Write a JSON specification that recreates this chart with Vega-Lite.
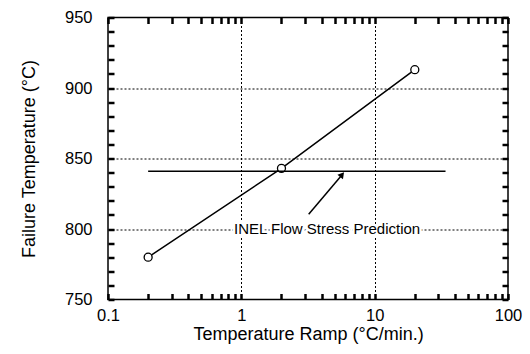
{
  "$schema": "https://vega.github.io/schema/vega-lite/v6.json",
  "width": 400,
  "height": 282,
  "autosize": {"type": "none"},
  "padding": {"left": 108, "top": 17.5, "right": 22, "bottom": 54.5},
  "background": "white",
  "config": {
    "font": "Liberation Sans",
    "view": {"stroke": "black", "strokeWidth": 1.5},
    "axis": {
      "domain": false,
      "labelFont": "Liberation Sans",
      "titleFont": "Liberation Sans",
      "labelColor": "black",
      "titleColor": "black",
      "labelFontSize": 16.5,
      "titleFontSize": 18,
      "titleFontWeight": "normal",
      "gridColor": "black",
      "gridDash": [2, 2],
      "gridWidth": 1,
      "labelOverlap": false,
      "labelFlush": false,
      "labelBound": false
    }
  },
  "datasets": {
    "failure": [
      {"ramp": 0.2, "temp": 780},
      {"ramp": 2, "temp": 843},
      {"ramp": 20, "temp": 913}
    ],
    "prediction": [
      {"ramp_start": 0.2, "ramp_end": 34, "temp": 841}
    ],
    "arrow": [
      {"ramp": 3.2, "temp": 810.5},
      {"ramp": 5.7, "temp": 838.5}
    ],
    "arrowhead": [
      {"ramp": 5.7, "temp": 838.5}
    ],
    "note": [
      {"ramp": 4.4, "temp": 800, "label": "INEL Flow Stress Prediction"}
    ]
  },
  "layer": [
    {
      "data": {"name": "failure"},
      "mark": {"type": "line", "color": "black", "strokeWidth": 1.5},
      "encoding": {
        "x": {
          "field": "ramp",
          "type": "quantitative",
          "scale": {"type": "log", "domain": [0.1, 100], "nice": false},
          "axis": {
            "orient": "bottom",
            "values": [0.1, 0.2, 0.3, 0.4, 0.5, 0.6, 0.7, 0.8, 0.9, 1, 2, 3, 4, 5, 6, 7, 8, 9, 10, 20, 30, 40, 50, 60, 70, 80, 90, 100],
            "ticks": true,
            "tickSize": -6,
            "tickColor": "black",
            "tickWidth": 2.5,
            "labelPadding": 14,
            "labelExpr": "datum.value == 0.1 ? '0.1' : datum.value == 1 ? '1' : datum.value == 10 ? '10' : datum.value == 100 ? '100' : ''",
            "grid": true,
            "gridOpacity": {"condition": {"test": "datum.value == 1 || datum.value == 10", "value": 1}, "value": 0},
            "title": "Temperature Ramp (°C/min.)",
            "titleY": 40,
            "titleBaseline": "alphabetic"
          }
        },
        "y": {
          "field": "temp",
          "type": "quantitative",
          "scale": {"domain": [750, 950], "nice": false, "zero": false},
          "axis": {
            "orient": "left",
            "values": [750, 760, 770, 780, 790, 800, 810, 820, 830, 840, 850, 860, 870, 880, 890, 900, 910, 920, 930, 940, 950],
            "ticks": true,
            "tickSize": -6,
            "tickColor": "black",
            "tickWidth": 2.5,
            "labelPadding": 22,
            "labelExpr": "datum.value % 50 == 0 ? datum.label : ''",
            "grid": true,
            "gridOpacity": {"condition": {"test": "datum.value == 800 || datum.value == 850 || datum.value == 900", "value": 1}, "value": 0},
            "title": "Failure Temperature (°C)",
            "titleX": -74,
            "titleBaseline": "alphabetic"
          }
        }
      }
    },
    {
      "data": {"name": "failure"},
      "mark": {"type": "point", "shape": "circle", "size": 64, "filled": false, "fill": "white", "stroke": "black", "strokeWidth": 1.3, "opacity": 1},
      "encoding": {
        "x": {"field": "ramp", "type": "quantitative", "scale": {"type": "log", "domain": [0.1, 100], "nice": false}, "axis": null},
        "y": {"field": "temp", "type": "quantitative", "scale": {"domain": [750, 950], "nice": false, "zero": false}, "axis": null}
      }
    },
    {
      "data": {"name": "prediction"},
      "mark": {"type": "rule", "color": "black", "strokeWidth": 1.5},
      "encoding": {
        "x": {
          "field": "ramp_start",
          "type": "quantitative",
          "scale": {"type": "log", "domain": [0.1, 100], "nice": false},
          "axis": {
            "orient": "top",
            "values": [0.1, 0.2, 0.3, 0.4, 0.5, 0.6, 0.7, 0.8, 0.9, 1, 2, 3, 4, 5, 6, 7, 8, 9, 10, 20, 30, 40, 50, 60, 70, 80, 90, 100],
            "offset": -6,
            "tickSize": 6,
            "tickColor": "black",
            "tickWidth": 2.5,
            "labels": false,
            "grid": false,
            "title": null
          }
        },
        "x2": {"field": "ramp_end"},
        "y": {
          "field": "temp",
          "type": "quantitative",
          "scale": {"domain": [750, 950], "nice": false, "zero": false},
          "axis": {
            "orient": "right",
            "values": [750, 760, 770, 780, 790, 800, 810, 820, 830, 840, 850, 860, 870, 880, 890, 900, 910, 920, 930, 940, 950],
            "offset": -6,
            "tickSize": 6,
            "tickColor": "black",
            "tickWidth": 2.5,
            "labels": false,
            "grid": false,
            "title": null
          }
        }
      }
    },
    {
      "data": {"name": "arrow"},
      "mark": {"type": "line", "color": "black", "strokeWidth": 1.5},
      "encoding": {
        "x": {"field": "ramp", "type": "quantitative", "scale": {"type": "log", "domain": [0.1, 100], "nice": false}, "axis": null},
        "y": {"field": "temp", "type": "quantitative", "scale": {"domain": [750, 950], "nice": false, "zero": false}, "axis": null}
      }
    },
    {
      "data": {"name": "arrowhead"},
      "mark": {"type": "point", "shape": "triangle-up", "size": 50, "filled": true, "color": "black", "opacity": 1, "angle": 39},
      "encoding": {
        "x": {"field": "ramp", "type": "quantitative", "scale": {"type": "log", "domain": [0.1, 100], "nice": false}, "axis": null},
        "y": {"field": "temp", "type": "quantitative", "scale": {"domain": [750, 950], "nice": false, "zero": false}, "axis": null}
      }
    },
    {
      "data": {"name": "note"},
      "mark": {"type": "text", "font": "Liberation Sans", "fontSize": 15, "align": "center", "baseline": "middle", "fill": "white", "stroke": "white", "strokeWidth": 5, "strokeJoin": "round"},
      "encoding": {
        "x": {"field": "ramp", "type": "quantitative", "scale": {"type": "log", "domain": [0.1, 100], "nice": false}, "axis": null},
        "y": {"field": "temp", "type": "quantitative", "scale": {"domain": [750, 950], "nice": false, "zero": false}, "axis": null},
        "text": {"field": "label"}
      }
    },
    {
      "data": {"name": "note"},
      "mark": {"type": "text", "font": "Liberation Sans", "fontSize": 15, "align": "center", "baseline": "middle", "color": "black"},
      "encoding": {
        "x": {"field": "ramp", "type": "quantitative", "scale": {"type": "log", "domain": [0.1, 100], "nice": false}, "axis": null},
        "y": {"field": "temp", "type": "quantitative", "scale": {"domain": [750, 950], "nice": false, "zero": false}, "axis": null},
        "text": {"field": "label"}
      }
    }
  ],
  "resolve": {"axis": {"x": "independent", "y": "independent"}}
}
